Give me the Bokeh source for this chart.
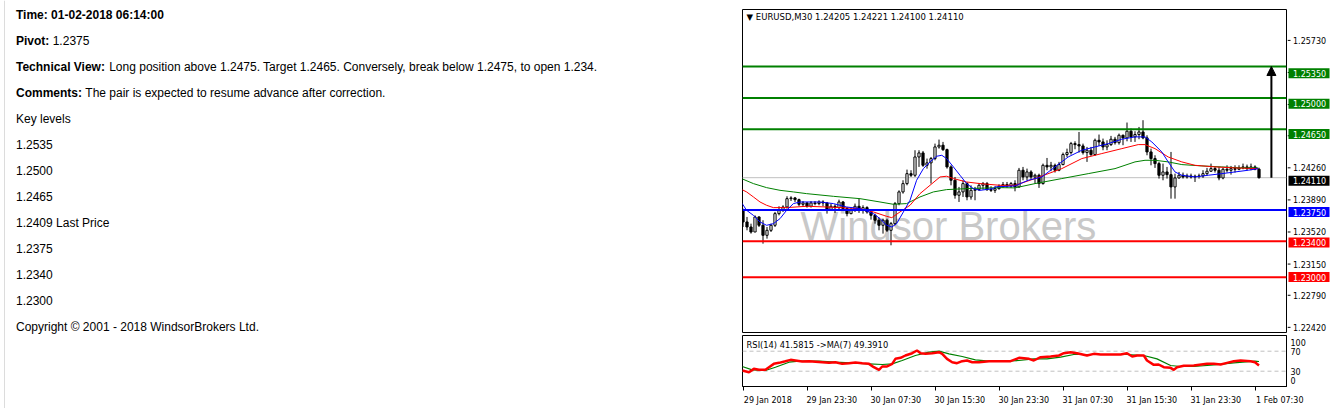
from bokeh.plotting import figure
from bokeh.models import (Range1d, FixedTicker, Span, Label, Arrow, NormalHead,
                          ColumnDataSource)
from bokeh.layouts import row, column
from bokeh.embed import file_html
from bokeh.resources import INLINE
from bokeh.core.properties import value

# ---------------- data ----------------
info_bold = ["Time: 01-02-2018 06:14:00", "Pivot:", "Technical View:", "Comments:"]
info_text = ["", "1.2375",
             "Long position above 1.2475. Target 1.2465. Conversely, break below 1.2475, to open 1.234.",
             "The pair is expected to resume advance after correction."]
key_title = "Key levels"
key_levels = ["1.2535", "1.2500", "1.2465", "1.2409 Last Price", "1.2375", "1.2340", "1.2300"]
copyright_text = "Copyright \u00a9 2001 - 2018 WindsorBrokers Ltd."

header_text = "\u25bc EURUSD,M30  1.24205 1.24221 1.24100 1.24110"
rsi_header = "RSI(14) 41.5815  ->MA(7) 49.3910"
watermark = "Windsor Brokers"

first_open = 1.23746
closes = [
    1.23616, 1.23560, 1.23504, 1.23672, 1.23579, 1.23467, 1.23523, 1.23579, 1.23709, 1.23754,
    1.23783, 1.23876, 1.23884, 1.23865, 1.23813, 1.23828, 1.23791, 1.23828, 1.23821, 1.23839,
    1.23828, 1.23754, 1.23791, 1.23776, 1.23839, 1.23765, 1.23709, 1.23754, 1.23791, 1.23746,
    1.23776, 1.23728, 1.23690, 1.23635, 1.23579, 1.23635, 1.23523, 1.23597, 1.23821, 1.23951,
    1.24044, 1.24155, 1.24137, 1.24341, 1.24386, 1.24248, 1.24275, 1.24323, 1.24453, 1.24472,
    1.24423, 1.24230, 1.24081, 1.23914, 1.23951, 1.24044, 1.23895, 1.23969, 1.23977, 1.24025,
    1.24044, 1.23977, 1.23969, 1.23988, 1.24014, 1.24033, 1.24018, 1.24044, 1.24007, 1.24193,
    1.24118, 1.24174, 1.24118, 1.24137, 1.24044, 1.24248, 1.24230, 1.24248, 1.24193, 1.24256,
    1.24368, 1.24390, 1.24490, 1.24479, 1.24464, 1.24390, 1.24416, 1.24368, 1.24527, 1.24509,
    1.24453, 1.24479, 1.24539, 1.24501, 1.24583, 1.24554, 1.24628, 1.24565, 1.24591, 1.24620,
    1.24554, 1.24397, 1.24323, 1.24267, 1.24137, 1.24174, 1.24144, 1.24007, 1.24107, 1.24137,
    1.24118, 1.24129, 1.24118, 1.24126, 1.24129, 1.24155, 1.24182, 1.24211, 1.24193, 1.24107,
    1.24204, 1.24193, 1.24211, 1.24204, 1.24219, 1.24230, 1.24211, 1.24230, 1.24205, 1.24110,
]
highs = [
    1.23765, 1.23672, 1.23597, 1.23690, 1.23679, 1.23635, 1.23560, 1.23597, 1.23728, 1.23791,
    1.23802, 1.23903, 1.23903, 1.23895, 1.23876, 1.23850, 1.23839, 1.23850, 1.23850, 1.23858,
    1.23858, 1.23839, 1.23821, 1.23813, 1.23865, 1.23850, 1.23783, 1.23776, 1.23821, 1.23876,
    1.23802, 1.23791, 1.23746, 1.23709, 1.23664, 1.23653, 1.23653, 1.23616, 1.23839, 1.23969,
    1.24081, 1.24200, 1.24193, 1.24416, 1.24416, 1.24408, 1.24323, 1.24341, 1.24490, 1.24535,
    1.24509, 1.24434, 1.24248, 1.24118, 1.24007, 1.24081, 1.24062, 1.24025, 1.24007, 1.24051,
    1.24062, 1.24062, 1.24014, 1.24014, 1.24036, 1.24062, 1.24062, 1.24062, 1.24081, 1.24219,
    1.24230, 1.24211, 1.24193, 1.24155, 1.24155, 1.24267, 1.24330, 1.24286, 1.24267, 1.24286,
    1.24390, 1.24434, 1.24509, 1.24516, 1.24620, 1.24490, 1.24453, 1.24453, 1.24546, 1.24591,
    1.24546, 1.24527, 1.24576, 1.24565, 1.24602, 1.24591, 1.24725, 1.24658, 1.24628, 1.24676,
    1.24751, 1.24583, 1.24434, 1.24360, 1.24286, 1.24267, 1.24230, 1.24397, 1.24155, 1.24174,
    1.24167, 1.24155, 1.24155, 1.24144, 1.24155, 1.24193, 1.24219, 1.24267, 1.24230, 1.24230,
    1.24219, 1.24248, 1.24241, 1.24248, 1.24248, 1.24267, 1.24256, 1.24267, 1.24248, 1.24221,
]
lows = [
    1.23560, 1.23523, 1.23486, 1.23504, 1.23560, 1.23374, 1.23430, 1.23504, 1.23560, 1.23690,
    1.23728, 1.23765, 1.23850, 1.23839, 1.23791, 1.23783, 1.23776, 1.23776, 1.23802, 1.23802,
    1.23791, 1.23709, 1.23739, 1.23717, 1.23746, 1.23746, 1.23679, 1.23702, 1.23728, 1.23717,
    1.23709, 1.23709, 1.23642, 1.23597, 1.23523, 1.23486, 1.23504, 1.23356, 1.23579, 1.23802,
    1.23932, 1.24025, 1.24118, 1.24118, 1.24230, 1.24230, 1.24211, 1.24044, 1.24304, 1.24434,
    1.24408, 1.24211, 1.24025, 1.23876, 1.23839, 1.23895, 1.23858, 1.23865, 1.23858, 1.23962,
    1.23977, 1.23962, 1.23951, 1.23940, 1.23977, 1.23996, 1.23996, 1.23996, 1.23958, 1.23996,
    1.24081, 1.24081, 1.24092, 1.24044, 1.23996, 1.24033, 1.24193, 1.24182, 1.24167, 1.24182,
    1.24248, 1.24341, 1.24368, 1.24427, 1.24390, 1.24368, 1.24286, 1.24353, 1.24353, 1.24464,
    1.24416, 1.24416, 1.24464, 1.24479, 1.24479, 1.24472, 1.24516, 1.24509, 1.24509, 1.24539,
    1.24539, 1.24360, 1.24248, 1.24219, 1.24100, 1.24081, 1.24100, 1.23876, 1.23876, 1.24100,
    1.24100, 1.24100, 1.24100, 1.24062, 1.24100, 1.24107, 1.24137, 1.24174, 1.24167, 1.24081,
    1.24092, 1.24167, 1.24144, 1.24167, 1.24193, 1.24204, 1.24193, 1.24193, 1.24193, 1.24100,
]

# moving averages (bar index, price)
ma_fast_x = [-0.75, 0.9, 2.6, 4.25, 5.9, 7.6, 9.25, 10.9, 12.6, 14.25, 19.25, 22.6, 25.9, 29.25,
             32.6, 34.25, 35.9, 37.2, 38.4, 40.1, 41.75, 43.4, 45.1, 46.75, 48.4, 49.7, 50.9,
             52.6, 54.25, 55.9, 57.6, 59.25, 62.6, 63, 68, 71.3, 74.7, 78, 81.3, 84.7, 88, 91.3,
             94.7, 98, 100.5, 102.2, 104.7, 106.3, 108, 109.7, 113, 116.3, 119.7, 123, 126.3, 128.8]
ma_fast_y = [1.23858, 1.23746, 1.23690, 1.23616, 1.23579, 1.23597, 1.23653, 1.23746, 1.23821,
             1.23839, 1.23839, 1.23821, 1.23783, 1.23765, 1.23709, 1.23653, 1.23579, 1.23560,
             1.23597, 1.23728, 1.23858, 1.24081, 1.24211, 1.24286, 1.24349, 1.24360, 1.24323,
             1.24230, 1.24137, 1.24044, 1.23988, 1.23969, 1.23988, 1.24007, 1.24018, 1.24081,
             1.24118, 1.24230, 1.24341, 1.24416, 1.24453, 1.24490, 1.24539, 1.24565, 1.24565,
             1.24509, 1.24397, 1.24286, 1.24174, 1.24137, 1.24118, 1.24137, 1.24155, 1.24174,
             1.24193, 1.24211]
ma_mid_x = [-0.75, 0.9, 2.6, 4.25, 5.9, 7.6, 10.9, 15.9, 20.9, 24.25, 29.25, 32.6, 35.9, 37.2,
            39.25, 41.75, 44.25, 46.75, 49.25, 50.9, 52.6, 55.9, 59.25, 64.25, 68, 73, 79.7,
            84.7, 89.7, 94.7, 98.8, 100.5, 103, 106.3, 109.7, 113, 118, 123, 128.8]
ma_mid_y = [1.23988, 1.23951, 1.23895, 1.23839, 1.23802, 1.23776, 1.23776, 1.23791, 1.23783,
            1.23776, 1.23765, 1.23728, 1.23679, 1.23664, 1.23728, 1.23802, 1.23932, 1.24025,
            1.24118, 1.24126, 1.24100, 1.24062, 1.24044, 1.24025, 1.24025, 1.24100, 1.24211,
            1.24323, 1.24379, 1.24434, 1.24479, 1.24479, 1.24434, 1.24341, 1.24286, 1.24248,
            1.24230, 1.24219, 1.24211]
ma_slow_x = [-0.75, 2.6, 5.9, 9.25, 12.6, 15.9, 22.6, 29.25, 34.25, 37.6, 40.9, 44.25, 47.6,
             50.9, 55.9, 64.25, 68, 73, 79.7, 86.3, 93, 98, 100.5, 103, 106.3, 109.7, 114.7,
             119.7, 124.7, 128.8]
ma_slow_y = [1.24107, 1.24044, 1.23999, 1.23969, 1.23951, 1.23932, 1.23902, 1.23876, 1.23839,
             1.23813, 1.23821, 1.23895, 1.23951, 1.23977, 1.23988, 1.23999, 1.23996, 1.24044,
             1.24100, 1.24155, 1.24211, 1.24286, 1.24304, 1.24304, 1.24286, 1.24256, 1.24241,
             1.24230, 1.24219, 1.24219]

# RSI(14) and its MA(7)
rsi_x = [-0.2, 1.5, 2.7, 4.0, 5.6, 6.5, 7.7, 9.0, 10.6, 11.9, 13.1, 14.8, 16.5, 19.8, 21.5, 23.1,
         24.8, 26.5, 28.1, 29.8, 31.5, 32.7, 34.0, 34.8, 36.0, 37.3, 38.1, 39.4, 40.6, 42.3, 43.5,
         44.4, 45.6, 47.3, 49.0, 49.8, 51.0, 52.3, 53.5, 54.8, 56.0, 57.3, 59.0, 61.5, 64.4, 66.9,
         69.0, 71.5, 72.7, 74.4, 76.9, 79.0, 80.2, 81.9, 83.5, 86.0, 87.7, 89.4, 91.0, 92.7, 94.4,
         96.0, 97.3, 98.5, 100.2, 101.0, 102.7, 103.9, 105.2, 106.9, 107.7, 108.5, 110.2, 112.7,
         116.0, 117.7, 119.4, 121.0, 122.7, 124.4, 126.9, 128.0, 129.0]
rsi_y = [31.4, 28.0, 34.7, 32.7, 32.7, 38.0, 44.7, 46.7, 50.0, 52.7, 51.4, 49.4, 50.0, 48.0, 46.7,
         48.0, 44.7, 46.0, 47.4, 46.0, 44.7, 38.0, 32.7, 39.4, 39.4, 44.7, 54.7, 56.7, 61.4, 66.0,
         71.4, 66.0, 64.7, 66.0, 68.0, 64.7, 54.7, 48.0, 46.0, 50.0, 51.4, 48.0, 48.0, 50.0, 50.0,
         50.0, 56.7, 54.7, 51.4, 58.0, 59.4, 61.4, 66.0, 68.0, 66.0, 61.4, 64.7, 63.4, 63.4, 63.4,
         63.4, 66.0, 59.4, 61.4, 61.4, 51.4, 42.7, 43.4, 38.0, 36.7, 32.7, 38.0, 40.7, 41.4, 44.7,
         44.7, 43.4, 46.7, 50.0, 51.4, 50.0, 48.0, 41.58]
rsi_ma_x = [-0.2, 2.3, 5.6, 8.1, 11.5, 14.0, 19.0, 23.1, 28.1, 31.5, 34.8, 37.3, 39.8, 43.1, 46.5,
            49.0, 51.5, 54.8, 58.1, 61.5, 64.8, 69.0, 72.7, 76.0, 79.4, 82.7, 86.0, 91.0, 96.0,
            100.2, 103.5, 106.9, 109.4, 112.7, 117.7, 122.7, 128.0, 129.0]
rsi_ma_y = [39.4, 32.7, 31.4, 38.0, 48.0, 50.0, 50.0, 48.0, 46.0, 44.7, 43.4, 44.7, 51.4, 61.4,
            68.0, 70.0, 64.7, 59.4, 52.7, 50.0, 50.0, 51.4, 54.7, 54.7, 58.0, 63.4, 63.4, 63.4,
            63.4, 61.4, 54.7, 41.4, 39.4, 39.4, 42.7, 46.7, 50.0, 49.39]

price_ticks = [1.2573, 1.2536, 1.2499, 1.2463, 1.2426, 1.2389, 1.2352, 1.2315, 1.2279, 1.2242]
level_prices = [1.2535, 1.2500, 1.2465, 1.2375, 1.2340, 1.2300]
level_colors = ["#008000", "#008000", "#008000", "#0000ff", "#ff0000", "#ff0000"]
last_price = 1.2411
target_price = 1.2535
date_ticks = [0, 16, 32, 48, 64, 80, 96, 112, 128]
date_labels = ["29 Jan 2018", "29 Jan 23:30", "30 Jan 07:30", "30 Jan 15:30", "30 Jan 23:30",
               "31 Jan 07:30", "31 Jan 15:30", "31 Jan 23:30", "1 Feb 07:30"]
rsi_levels = [30, 70]
rsi_tick_pos = [12, 30, 70, 88]
rsi_tick_text = ["0", "30", "70", "100"]

HTML_FONT = "Liberation Sans"
MT_FONT = "DejaVu Sans"

# ---------------- left text panel ----------------
left = figure(width=741, height=408, x_range=Range1d(0, 741), y_range=Range1d(408, 0),
              output_backend="svg", toolbar_location=None, x_axis_location=None,
              y_axis_location=None, min_border=0, outline_line_color=None)
left.grid.visible = False
left.add_layout(Span(location=4, dimension="height", line_color="#dcdcdc", line_width=1))

line_y = [14 + 26 * k for k in range(13)]
bold_off = [0, 36.7, 93.2, 69.3]
left.text(x=[15.5] * 4, y=line_y[:4], text=info_bold, text_font=value(HTML_FONT),
          text_font_size=value("12px"), text_font_style="bold", text_baseline="middle",
          text_color="#000000")
left.text(x=[15.5 + o for o in bold_off[1:]], y=line_y[1:4], text=info_text[1:],
          text_font=value(HTML_FONT), text_font_size=value("12px"), text_baseline="middle",
          text_color="#000000")
rest = [key_title] + key_levels + [copyright_text]
left.text(x=[15.5] * len(rest), y=line_y[4:4 + len(rest)], text=rest,
          text_font=value(HTML_FONT), text_font_size=value("12px"), text_baseline="middle",
          text_color="#000000")

# ---------------- price chart ----------------
idx = list(range(len(closes)))
opens = [first_open] + closes[:-1]
tops = [max(o, c) for o, c in zip(opens, closes)]
bots = [min(o, c) for o, c in zip(opens, closes)]
fills = ["white" if c >= o else "black" for o, c in zip(opens, closes)]
src = ColumnDataSource(dict(x=idx, o=opens, h=highs, l=lows, c=closes, top=tops, bot=bots, fill=fills))

Y0, Y1 = 1.22383, 1.25986
p = figure(width=546, height=334, x_range=Range1d(-0.125, 135.875),
           y_range=Range1d(Y0, Y1), output_backend="svg", toolbar_location=None,
           x_axis_location=None, y_axis_location=None, min_border_left=1,
           min_border_right=1, min_border_top=9, min_border_bottom=2,
           outline_line_color="black", background_fill_color="white")
p.grid.visible = False

p.add_layout(Label(x=14.4, y=1.23331, text=watermark, text_font=HTML_FONT,
                   text_font_size="40px", text_color="#c8c8c8", level="underlay"))
p.add_layout(Span(location=last_price, dimension="width", line_color="#c0c0c0",
                  line_width=1, level="underlay"))

p.segment(x0="x", y0="l", x1="x", y1="h", source=src, line_color="black", line_width=1)
p.vbar(x="x", width=0.55, top="top", bottom="bot", source=src, fill_color="fill",
       line_color="black", line_width=1)

p.line(ma_slow_x, ma_slow_y, line_color="#008000", line_width=1)
p.line(ma_mid_x, ma_mid_y, line_color="#ff0000", line_width=1)
p.line(ma_fast_x, ma_fast_y, line_color="#0000ff", line_width=1)

for lv, col in zip(level_prices, level_colors):
    p.add_layout(Span(location=lv, dimension="width", line_color=col, line_width=2))

p.add_layout(Arrow(end=NormalHead(size=9, fill_color="black", line_color="black"),
                   x_start=132.1, y_start=last_price, x_end=132.1, y_end=target_price,
                   line_color="black", line_width=2))

p.add_layout(Label(x=0.9, y=1.25897, text=header_text, text_font=MT_FONT,
                   text_font_size="8.5px", text_color="black", text_baseline="middle"))

# ---------------- price scale column ----------------
s = (Y1 - Y0) / 323.0
ax = figure(width=51, height=334, x_range=Range1d(1287, 1338),
            y_range=Range1d(Y0 - 2 * s, Y1 + 9 * s), output_backend="svg",
            toolbar_location=None, x_axis_location=None, y_axis_location=None,
            min_border=0, outline_line_color=None)
ax.grid.visible = False
n = len(price_ticks)
ax.segment(x0=[1287] * n, y0=price_ticks, x1=[1290] * n, y1=price_ticks, line_color="black")
ax.text(x=[1292.5] * n, y=price_ticks, text=["%.5f" % t for t in price_ticks],
        text_font=value(MT_FONT), text_font_size=value("8px"), text_baseline="middle",
        text_color="black")
box_prices = level_prices[:3] + [last_price] + level_prices[3:]
box_colors = level_colors[:3] + ["#000000"] + level_colors[3:]
m = len(box_prices)
ax.rect(x=[1308.5] * m, y=box_prices, width=41, height=10, height_units="screen",
        fill_color=box_colors, line_color=None)
ax.text(x=[1292.5] * m, y=box_prices, text=["%.5f" % b for b in box_prices],
        text_font=value(MT_FONT), text_font_size=value("8px"), text_baseline="middle",
        text_color="white")

# ---------------- RSI panel ----------------
r = figure(width=597, height=74, x_range=p.x_range, y_range=Range1d(-0.6, 101.4),
           output_backend="svg", toolbar_location=None, x_axis_location="below",
           y_axis_location="right", min_border_left=1, min_border_right=52,
           min_border_top=1, min_border_bottom=22, outline_line_color="black")
r.grid.visible = False
for lv in rsi_levels:
    r.add_layout(Span(location=lv, dimension="width", line_color="#c0c0c0",
                      line_width=1, line_dash="4 3", level="underlay"))
r.line(rsi_ma_x, rsi_ma_y, line_color="#008000", line_width=1.2)
r.line(rsi_x, rsi_y, line_color="#ff0000", line_width=2.5)
r.add_layout(Label(x=0.9, y=83.4, text=rsi_header, text_font=MT_FONT, text_font_size="8.3px",
                   text_color="black", text_baseline="middle"))

# time axis: tick marks (minor ticks) at the bars, labels written to the right of each tick
label_shift = 6.2
label_pos = [t + label_shift for t in date_ticks]
xa = r.xaxis[0]
xa.ticker = FixedTicker(ticks=label_pos, minor_ticks=date_ticks)
xa.major_label_overrides = {pos: lab for pos, lab in zip(label_pos, date_labels)}
xa.major_tick_out = 0
xa.major_tick_in = 0
xa.minor_tick_out = 4
xa.minor_tick_in = 0
xa.minor_tick_line_color = "black"
xa.major_label_standoff = 5
xa.major_label_text_font = MT_FONT
xa.major_label_text_font_size = "8px"
xa.major_label_text_color = "black"
xa.axis_line_color = "black"

ra = r.yaxis[0]
ra.ticker = FixedTicker(ticks=rsi_tick_pos)
ra.major_label_overrides = {t: lab for t, lab in zip(rsi_tick_pos, rsi_tick_text)}
ra.major_label_text_font = MT_FONT
ra.major_label_text_font_size = "8px"
ra.major_label_text_color = "black"
ra.major_tick_out = 0
ra.major_tick_in = 0
ra.minor_tick_out = 0
ra.minor_tick_in = 0
ra.major_label_standoff = 4
ra.axis_line_color = "black"

layout = row(left, column(row(p, ax), r))
open("out.html", "w").write(file_html(layout, INLINE, title="EURUSD M30"))
